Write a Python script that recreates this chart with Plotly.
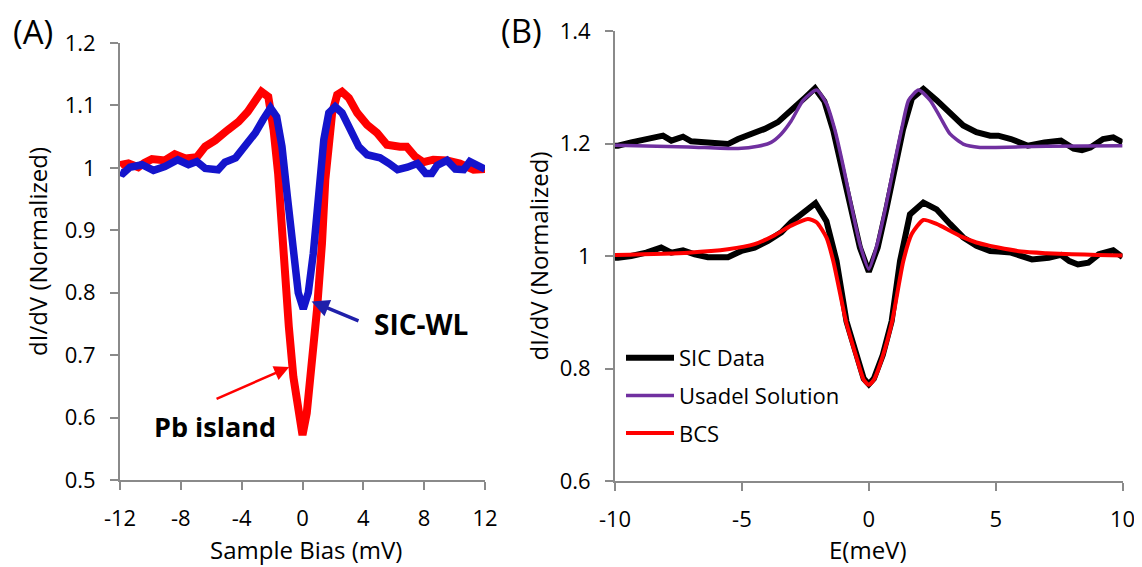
import plotly.graph_objects as go

# ---------------- Panel A data ----------------
pb_x = [-12.0, -11.9, -11.45, -10.8, -10.4, -9.9, -9.05, -8.4, -7.7, -6.95, -6.4, -5.75, -4.9, -4.2,
        -3.6, -3.15, -2.7, -2.25, -1.9, -1.6, -1.25, -0.9, -0.6, -0.27, 0.0, 0.28, 0.62, 0.95, 1.28,
        1.5, 1.95, 2.28, 2.6, 3.05, 3.6, 4.25, 4.9, 5.55, 6.4, 6.85, 7.4, 7.95, 8.6, 9.5, 10.35,
        11.25, 12.0]
pb_y = [1.003, 1.005, 1.007, 1.001, 1.008, 1.014, 1.012, 1.022, 1.015, 1.017, 1.034, 1.044, 1.061, 1.074,
        1.09, 1.109, 1.122, 1.114, 1.061, 0.99, 0.853, 0.746, 0.665, 0.607, 0.572, 0.607, 0.68, 0.772, 0.879,
        0.981, 1.088, 1.117, 1.122, 1.112, 1.088, 1.069, 1.056, 1.037, 1.034, 1.034, 1.018, 1.009, 1.013, 1.012, 1.007,
        0.997, 0.998]

wl_x = [-12.0, -11.8, -11.35, -10.55, -9.8, -9.05, -8.2, -7.5, -6.95, -6.4, -5.55, -5.1, -4.4, -3.8,
        -3.1, -2.6, -2.1, -1.7, -1.35, -1.0, -0.6, -0.28, 0.05, 0.38, 0.71, 1.05, 1.4, 1.73, 2.15,
        2.6, 3.15, 3.7, 4.25, 5.1, 5.7, 6.25, 6.9, 7.55, 8.1, 8.5, 8.85, 9.5, 10.05, 10.6, 11.0,
        11.6, 12.0]
wl_y = [0.993, 0.991, 1.001, 1.005, 0.996, 1.002, 1.013, 1.005, 1.01, 0.999, 0.997, 1.009, 1.016, 1.034,
        1.056, 1.077, 1.096, 1.082, 1.034, 0.955, 0.853, 0.8, 0.774, 0.8, 0.863, 0.95, 1.045, 1.088, 1.098,
        1.088, 1.061, 1.034, 1.021, 1.016, 1.007, 0.997, 1.001, 1.007, 0.991, 0.991, 1.004, 1.012, 0.998, 0.997, 1.01,
        1.003, 0.998]

a_xticks = [-12, -8, -4, 0, 4, 8, 12]
a_xtext = ["-12", "-8", "-4", "0", "4", "8", "12"]
a_yticks = [0.5, 0.6, 0.7, 0.8, 0.9, 1.0, 1.1, 1.2]
a_ytext = ["0.5", "0.6", "0.7", "0.8", "0.9", "1", "1.1", "1.2"]

# ---------------- Panel B data ----------------
sic_up_x = [-10.0, -9.88, -9.36, -8.84, -8.44, -8.11, -7.78, -7.32, -7.0, -6.47, -5.94, -5.55, -5.15, -4.63,
            -4.1, -3.58, -3.19, -2.86, -2.5, -2.12, -1.75, -1.4, -1.05, -0.7, -0.35, 0.0, 0.35, 0.7, 1.05,
            1.35, 1.7, 2.15, 2.67, 3.2, 3.72, 4.24, 4.78, 5.1, 5.6, 6.27, 6.92, 7.57, 8.07, 8.4, 8.73,
            9.23, 9.63, 10.0]
sic_up_y = [1.196, 1.196, 1.202, 1.207, 1.211, 1.214, 1.205, 1.212, 1.204, 1.202, 1.202, 1.199, 1.208, 1.217,
            1.226, 1.238, 1.253, 1.265, 1.282, 1.298, 1.275, 1.223, 1.155, 1.08, 1.015, 0.972, 1.015, 1.085, 1.16,
            1.225, 1.28, 1.297, 1.277, 1.253, 1.232, 1.22, 1.214, 1.214, 1.208, 1.196, 1.202, 1.205, 1.191, 1.188, 1.193,
            1.208, 1.211, 1.202]

usadel_x = [-10.0, -7.12, -5.15, -4.37, -3.85, -3.45, -3.06, -2.58, -2.06, -1.67, -1.33, -1.0, -0.67, -0.35,
            0.0, 0.33, 0.66, 0.98, 1.31, 1.57, 1.96, 2.41, 2.81, 3.2, 3.72, 4.38, 5.0, 7.0, 10.0]
usadel_y = [1.197, 1.194, 1.191, 1.195, 1.202, 1.217, 1.24, 1.277, 1.295, 1.271, 1.223, 1.158, 1.086, 1.021,
            0.977, 1.021, 1.086, 1.158, 1.229, 1.277, 1.295, 1.277, 1.247, 1.217, 1.199, 1.193, 1.193, 1.195, 1.196]

sic_lo_x = [-10.0, -9.88, -9.36, -8.77, -8.18, -7.78, -7.32, -6.86, -6.34, -5.55, -5.02, -4.5, -3.97, -3.45,
            -3.06, -2.5, -2.1, -1.67, -1.27, -0.88, -0.5, -0.2, 0.0, 0.2, 0.55, 0.9, 1.23, 1.62, 2.15,
            2.67, 3.2, 3.72, 4.24, 4.78, 5.1, 5.6, 6.43, 7.09, 7.57, 7.9, 8.24, 8.65, 9.06, 9.63, 10.0]
sic_lo_y = [0.997, 0.997, 1.0, 1.006, 1.015, 1.006, 1.01, 1.003, 0.998, 0.998, 1.009, 1.015, 1.027, 1.042,
            1.06, 1.08, 1.094, 1.062, 0.991, 0.884, 0.824, 0.782, 0.772, 0.782, 0.824, 0.884, 0.991, 1.074, 1.095,
            1.083, 1.057, 1.033, 1.018, 1.009, 1.008, 1.006, 0.994, 0.997, 1.002, 0.991, 0.985, 0.988, 1.003, 1.01, 0.998]

bcs_x = [-10.0, -7.12, -5.55, -4.5, -3.71, -3.06, -2.4, -2.06, -1.67, -1.4, -0.9, -0.5, -0.2, 0.0,
         0.2, 0.55, 0.92, 1.36, 1.69, 2.15, 2.67, 3.2, 3.72, 4.24, 4.78, 5.1, 6.0, 7.0, 8.0, 9.0, 10.0]
bcs_y = [1.002, 1.006, 1.012, 1.021, 1.037, 1.054, 1.066, 1.06, 1.033, 0.991, 0.884, 0.822, 0.78, 0.771,
         0.78, 0.822, 0.884, 0.991, 1.039, 1.064, 1.057, 1.045, 1.033, 1.024, 1.018, 1.015, 1.008, 1.005, 1.003, 1.002, 1.001]

b_xticks = [-10, -5, 0, 5, 10]
b_xtext = ["-10", "-5", "0", "5", "10"]
b_yticks = [0.6, 0.8, 1.0, 1.2, 1.4]
b_ytext = ["0.6", "0.8", "1", "1.2", "1.4"]

W, H = 1142, 567
OFF = 8  # the page body offsets the figure by 8 px
FONT = "Open Sans"
AX = "#8a8a8a"


def px_x(px):
    return (px - OFF) / W


def px_y(py):
    return 1 - (py - OFF) / H


fig = go.Figure()
fig.add_trace(go.Scatter(x=pb_x, y=pb_y, mode="lines", line=dict(color="#ff0000", width=8),
                         xaxis="x", yaxis="y", showlegend=False))
fig.add_trace(go.Scatter(x=wl_x, y=wl_y, mode="lines", line=dict(color="#1414cc", width=7.5),
                         xaxis="x", yaxis="y", showlegend=False))

fig.add_trace(go.Scatter(x=sic_up_x, y=sic_up_y, mode="lines", name="SIC Data", legendgroup="a",
                         line=dict(color="#000000", width=6), xaxis="x2", yaxis="y2"))
fig.add_trace(go.Scatter(x=sic_lo_x, y=sic_lo_y, mode="lines", name="SIC Data", legendgroup="a",
                         line=dict(color="#000000", width=6), xaxis="x2", yaxis="y2", showlegend=False))
fig.add_trace(go.Scatter(x=usadel_x, y=usadel_y, mode="lines", name="Usadel Solution", legendgroup="b",
                         line=dict(color="#7030a0", width=3.5, shape="spline", smoothing=0.6),
                         xaxis="x2", yaxis="y2"))
fig.add_trace(go.Scatter(x=bcs_x, y=bcs_y, mode="lines", name="BCS", legendgroup="c",
                         line=dict(color="#ff0000", width=4, shape="spline", smoothing=0.6),
                         xaxis="x2", yaxis="y2"))


def axis(domain, rng, tv, tt, anchor):
    return dict(domain=domain, range=rng, tickvals=tv, ticktext=tt, anchor=anchor,
                showgrid=False, zeroline=False, showline=True, linecolor=AX, linewidth=2,
                ticks="outside", ticklen=8, tickwidth=1.5, tickcolor=AX, automargin=False,
                tickfont=dict(family=FONT, size=22, color="#000000"), ticklabelstandoff=10)


fig.update_layout(
    width=W, height=H, margin=dict(l=0, r=0, t=0, b=0, pad=0, autoexpand=False),
    paper_bgcolor="white", plot_bgcolor="white",
    font=dict(family=FONT, color="#000000"),
    xaxis=axis([px_x(120), px_x(485)], [-12, 12], a_xticks, a_xtext, "y"),
    yaxis=axis([px_y(480), px_y(43)], [0.5, 1.2], a_yticks, a_ytext, "x"),
    xaxis2=axis([px_x(615), px_x(1122.6)], [-10, 10], b_xticks, b_xtext, "y2"),
    yaxis2=axis([px_y(481), px_y(31)], [0.6, 1.4], b_yticks, b_ytext, "x2"),
    legend=dict(x=px_x(621), y=px_y(337), xanchor="left", yanchor="top",
                bgcolor="rgba(0,0,0,0)", font=dict(family=FONT, size=22, color="#000000"),
                tracegroupgap=6, itemwidth=48),
)


def lab(text, px, py, size, angle=0):
    return dict(text=text, x=px_x(px), y=px_y(py), xref="paper", yref="paper", showarrow=False,
                xanchor="center", yanchor="middle", textangle=angle,
                font=dict(size=size, family=FONT, color="#000000"))


ann = [
    lab("(A)", 33, 31, 33),
    lab("(B)", 521, 30, 33),
    lab("Sample Bias (mV)", 306, 549, 24),
    lab("E(meV)", 868, 549, 24),
    lab("dI/dV (Normalized)", 37.5, 251.5, 24, -90),
    lab("dI/dV (Normalized)", 538, 256.5, 24, -90),
    dict(text="<b>SIC-WL</b>", x=7.82, y=0.75, xref="x", yref="y", showarrow=False,
         xanchor="center", yanchor="middle", font=dict(size=28, family=FONT, color="#000000")),
    dict(text="<b>Pb island</b>", x=-5.75, y=0.585, xref="x", yref="y", showarrow=False,
         xanchor="center", yanchor="middle", font=dict(size=27, family=FONT, color="#000000")),
    dict(text="", x=0.6, y=0.786, ax=3.78, ay=0.754, xref="x", yref="y", axref="x", ayref="y",
         showarrow=True, arrowhead=2, arrowsize=1, arrowwidth=3.5, arrowcolor="#2020aa"),
    dict(text="", x=-0.87, y=0.681, ax=-5.75, ay=0.629, xref="x", yref="y", axref="x", ayref="y",
         showarrow=True, arrowhead=2, arrowsize=1.2, arrowwidth=2.5, arrowcolor="#ff0000"),
]
fig.update_layout(annotations=ann)

fig.write_html("out.html")
